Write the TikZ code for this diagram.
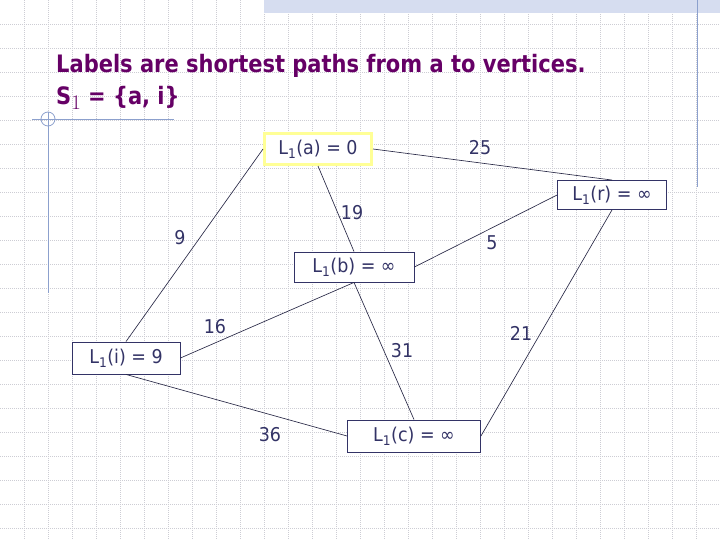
\documentclass[tikz,border=0pt]{standalone}
\usepackage{fontspec}
\setmainfont{DejaVu Sans}
\newfontfamily\headfont[FakeStretch=0.875]{DejaVu Sans}
\newfontfamily\vfont[FakeStretch=0.92]{DejaVu Sans}
\usetikzlibrary{positioning}

\definecolor{ink}{RGB}{51,51,102}
\definecolor{linecol}{RGB}{40,40,70}
\definecolor{titlecol}{RGB}{102,0,102}
\definecolor{gridcol}{RGB}{205,205,212}
\definecolor{rulecol}{RGB}{140,160,205}
\definecolor{bandcol}{RGB}{214,221,240}
\definecolor{hilite}{RGB}{255,255,150}

\begin{document}
\begin{tikzpicture}[
  x=1pt, y=-1pt,
  gridline/.style={draw=gridcol, line width=0.5pt, dash pattern=on 0.7pt off 1.3pt},
  title/.style={text=titlecol, font=\headfont\fontsize{24}{28}\selectfont\bfseries, inner sep=0pt, anchor=base west},
  vbox/.style={draw=ink, fill=white, text=ink, line width=0.9pt, inner sep=0pt,
    font=\vfont\fontsize{19}{21}\selectfont},
  wlab/.style={text=ink, font=\vfont\fontsize{19}{21}\selectfont},
  edge/.style={draw=linecol, line width=0.65pt},
]

\useasboundingbox (0,0) rectangle (720,540);
\fill [white] (0,0) rectangle (720,540);

% slide background
\foreach \k in {1,...,29}
  \draw [gridline] (24*\k,0) -- (24*\k,540);
\foreach \k in {1,...,22}
  \draw [gridline] (0,24*\k) -- (720,24*\k);
\fill [bandcol] (264,0) rectangle (720,13);
\draw [rulecol, line width=1pt] (697,0) -- (697,187);
\draw [rulecol, line width=0.8pt] (32,119) -- (174,119);
\draw [rulecol, line width=0.8pt] (48,112) -- (48,293);
\draw [rulecol, line width=0.8pt] (48,119) circle [radius=7pt];

\node [title] (head) at (56,73) {Labels are shortest paths from a to vertices.};
\node [title] (sset) at (56,105) {S\raisebox{-5pt}{\fontsize{20}{20}\selectfont\mdseries$1$} = \{a, i\}};

% vertices
\node [vbox, draw=hilite, line width=3pt, minimum width=107pt, minimum height=31pt] (a) at (318,149) {L\textsubscript{1}(a) = 0};
\node [vbox, minimum width=109pt, minimum height=29pt] (r) at (612,195) {L\textsubscript{1}(r) = ∞};
\node [vbox, minimum width=120pt, minimum height=30pt] (b) at (354,267) {L\textsubscript{1}(b) = ∞};
\node [vbox, minimum width=108pt, minimum height=32pt] (i) at (126,358) {L\textsubscript{1}(i) = 9};
\node [vbox, minimum width=133pt, minimum height=32pt] (c) at (414,436) {L\textsubscript{1}(c) = ∞};

% edges
\draw [edge] (a.east) -- (r.north);
\draw [edge] (a.west) -- (i.north);
\draw [edge] (a.south) -- (b.north);
\draw [edge] (r.west) -- (b.east);
\draw [edge] (r.south) -- (c.east);
\draw [edge] (b.south) -- (c.north);
\draw [edge] (b.south) -- (i.east);
\draw [edge] (i.south) -- (c.west);

% weights
\node [wlab] (w25) at (480,148) {25};
\node [wlab] (w9) at (180,238) {9};
\node [wlab] (w19) at (352,213) {19};
\node [wlab] (w5) at (492,243) {5};
\node [wlab] (w16) at (215,327) {16};
\node [wlab] (w31) at (402,351) {31};
\node [wlab] (w21) at (521,333) {21};
\node [wlab] (w36) at (270,435) {36};

\end{tikzpicture}
\end{document}
